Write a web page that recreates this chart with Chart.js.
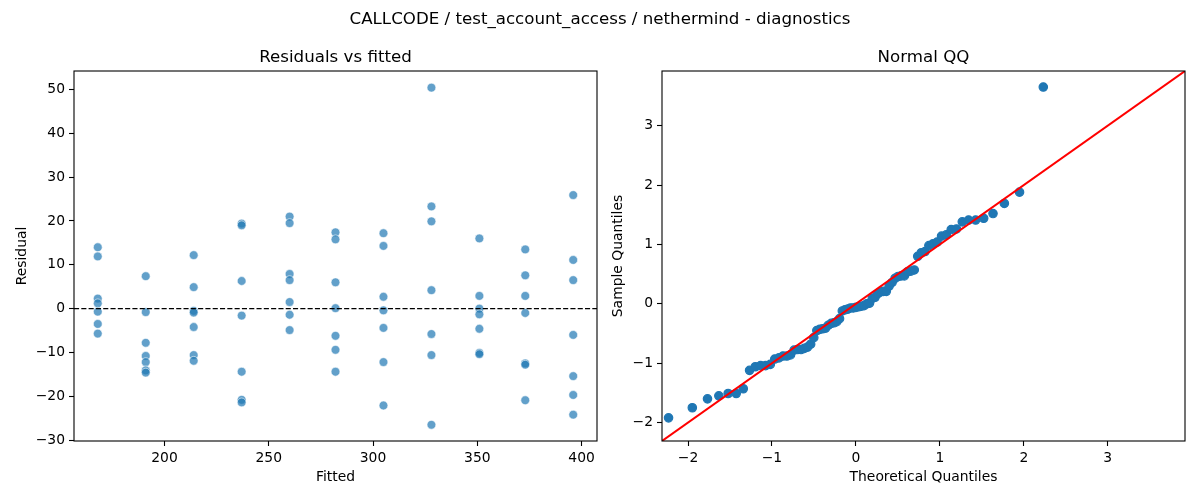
<!DOCTYPE html>
<html>
<head>
<meta charset="utf-8">
<script src="https://cdn.jsdelivr.net/npm/chart.js@4.4.1/dist/chart.umd.min.js"></script>
<style>
  body { margin: 0; background: #fff; }
  #wrap { position: relative; width: 1200px; height: 500px; font-family: 'DejaVu Sans', sans-serif; }
  #wrap canvas { position: absolute; left: 0; top: 0; }
  #suptitle { position: absolute; left: 0; top: 9px; width: 1200px; line-height: 20px; text-align: center; font-size: 16.67px; color: #000; }
</style>
</head>
<body>
<div id="wrap">
  <canvas id="residChart" width="1200" height="500"></canvas>
  <canvas id="qqChart" width="1200" height="500"></canvas>
  <div id="suptitle">CALLCODE / test_account_access / nethermind - diagnostics</div>
</div>
<script>
// fitted levels, one column of residuals for each
const fittedLevels = [168, 191, 214, 237, 260, 282, 305, 328, 351, 373, 396];
const residuals = [
    [14.0, 11.9, 2.3, 1.2, -0.7, -3.5, -5.7],
    [7.4, -0.8, -7.8, -10.8, -12.2, -14.1, -14.6],
    [12.2, 4.9, -0.5, -0.9, -4.2, -10.6, -11.9],
    [19.4, 19.0, 6.3, -1.6, -14.4, -20.8, -21.4],
    [21.0, 19.5, 7.9, 6.5, 1.5, -1.4, -4.9],
    [17.4, 15.8, 6.0, 0.1, -6.2, -9.4, -14.4],
    [17.2, 14.3, 2.7, -0.4, -4.4, -12.2, -22.1],
    [50.4, 23.3, 19.9, 4.2, -5.8, -10.6, -26.5],
    [16.0, 2.9, 0.0, -1.3, -4.6, -10.1, -10.4],
    [13.5, 7.6, 2.9, -1.0, -12.5, -12.8, -20.9],
    [25.9, 11.1, 6.5, -6.0, -15.4, -19.7, -24.2]
];
const fittedTicks = [200, 250, 300, 350, 400];
const residTicks = [-30, -20, -10, 0, 10, 20, 30, 40, 50];

// normal QQ points (theoretical vs sample quantiles)
const theoQ = [
    -2.232, -1.949, -1.768, -1.633, -1.522, -1.426, -1.342, -1.267, -1.198, -1.135,
    -1.076, -1.020, -0.967, -0.917, -0.869, -0.823, -0.779, -0.736, -0.695, -0.654,
    -0.615, -0.577, -0.539, -0.502, -0.466, -0.431, -0.396, -0.362, -0.328, -0.294,
    -0.261, -0.228, -0.195, -0.162, -0.129, -0.097, -0.064, -0.032, 0.000, 0.032,
    0.064, 0.097, 0.129, 0.162, 0.195, 0.228, 0.261, 0.294, 0.328, 0.362,
    0.396, 0.431, 0.466, 0.502, 0.539, 0.577, 0.615, 0.654, 0.695, 0.736,
    0.779, 0.823, 0.869, 0.917, 0.967, 1.020, 1.076, 1.135, 1.198, 1.267,
    1.342, 1.426, 1.522, 1.633, 1.768, 1.949, 2.232
];
const sampleQ = [
    -1.92, -1.75, -1.60, -1.55, -1.51, -1.51, -1.43, -1.12, -1.06, -1.04,
    -1.04, -1.02, -0.93, -0.91, -0.88, -0.88, -0.86, -0.78, -0.77, -0.77,
    -0.75, -0.73, -0.68, -0.57, -0.45, -0.43, -0.42, -0.41, -0.36, -0.33,
    -0.32, -0.30, -0.25, -0.12, -0.10, -0.09, -0.07, -0.07, -0.06, -0.05,
    -0.04, -0.03, 0.00, 0.01, 0.09, 0.11, 0.17, 0.20, 0.21, 0.21,
    0.30, 0.36, 0.43, 0.46, 0.47, 0.47, 0.54, 0.55, 0.57, 0.80,
    0.86, 0.88, 0.98, 1.01, 1.04, 1.14, 1.16, 1.25, 1.26, 1.38,
    1.41, 1.41, 1.44, 1.52, 1.69, 1.88, 3.65
];
const qqTicks = [-2, -1, 0, 1, 2, 3];
const qqLim = [-2.31, 3.92];

const FONT = "'DejaVu Sans', sans-serif";

// draws the box round the axes and the optional dashed zero line
const framePlugin = {
    id: 'frame',
    afterDatasetsDraw(chart, args, opts) {
        const ctx = chart.ctx;
        const a = chart.chartArea;
        ctx.save();
        if (opts.zeroLine) {
            const y = chart.scales.y.getPixelForValue(0);
            ctx.setLineDash([5.1, 2.2]);
            ctx.lineWidth = 1.4;
            ctx.strokeStyle = '#000';
            ctx.beginPath();
            ctx.moveTo(a.left, y);
            ctx.lineTo(a.right, y);
            ctx.stroke();
        }
        ctx.setLineDash([]);
        ctx.lineWidth = 1.1;
        ctx.strokeStyle = '#000';
        ctx.strokeRect(a.left, a.top, a.right - a.left, a.bottom - a.top);
        ctx.restore();
    }
};

function minusSign(v) {
    return String(v).replace('-', '\u2212');
}

function makeAxis(min, max, ticks, title, size, titlePad) {
    const vertical = title.vertical;
    return {
        type: 'linear',
        position: vertical ? 'left' : 'bottom',
        min: min,
        max: max,
        afterBuildTicks: function (scale) {
            scale.ticks = ticks.map(v => ({ value: v }));
        },
        afterFit: function (scale) {
            if (vertical) scale.width = size; else scale.height = size;
        },
        border: { display: false },
        grid: { display: true, drawOnChartArea: false, drawTicks: true, tickLength: 5, tickColor: '#000', tickWidth: 1.1 },
        ticks: {
            padding: 4,
            color: '#000',
            font: { family: FONT, size: 13.89 },
            callback: function (v) { return minusSign(v); }
        },
        title: {
            display: true,
            text: title.text,
            color: '#000',
            font: { family: FONT, size: 13.89, lineHeight: 1.2 },
            padding: titlePad
        }
    };
}

function plotTitle(text) {
    return {
        display: true,
        text: text,
        fullSize: false,
        color: '#000',
        font: { family: FONT, size: 16.67, weight: 'normal', lineHeight: 1.2 },
        padding: { top: 48, bottom: 3 }
    };
}

// residuals vs fitted
let residPoints = [];
for (var i = 0; i < fittedLevels.length; i++) {
    for (var j = 0; j < residuals[i].length; j++) {
        residPoints.push({ x: fittedLevels[i], y: residuals[i][j] });
    }
}

new Chart(document.getElementById('residChart'), {
    type: 'scatter',
    data: {
        datasets: [{
            data: residPoints,
            pointRadius: 4.4,
            pointBackgroundColor: 'rgba(31,119,180,0.7)',
            pointBorderColor: 'rgba(255,255,255,0.7)',
            pointBorderWidth: 0.8
        }]
    },
    options: {
        responsive: false,
        animation: false,
        events: [],
        layout: { padding: { left: 0, right: 603, top: 0, bottom: 9 } },
        scales: {
            x: makeAxis(156.6, 407.4, fittedTicks, { text: 'Fitted' }, 50, { top: 0, bottom: 5.7 }),
            y: makeAxis(-30.2, 54.2, residTicks, { text: 'Residual', vertical: true }, 74, { top: 13.7, bottom: 0 })
        },
        plugins: {
            legend: { display: false },
            tooltip: { enabled: false },
            title: plotTitle('Residuals vs fitted'),
            frame: { zeroLine: true }
        }
    },
    plugins: [framePlugin]
});

// normal QQ
let qqPoints = theoQ.map((t, k) => ({ x: t, y: sampleQ[k] }));

new Chart(document.getElementById('qqChart'), {
    type: 'scatter',
    data: {
        datasets: [{
            data: [{ x: qqLim[0], y: qqLim[0] }, { x: qqLim[1], y: qqLim[1] }],
            showLine: true,
            borderColor: '#ff0000',
            borderWidth: 2,
            pointRadius: 0,
            order: 0
        }, {
            data: qqPoints,
            pointRadius: 4.2,
            pointBackgroundColor: '#1f77b4',
            pointBorderColor: '#1f77b4',
            pointBorderWidth: 1.2,
            order: 1
        }]
    },
    options: {
        responsive: false,
        animation: false,
        events: [],
        layout: { padding: { left: 602, right: 15, top: 0, bottom: 9 } },
        scales: {
            x: makeAxis(qqLim[0], qqLim[1], qqTicks, { text: 'Theoretical Quantiles' }, 50, { top: 0, bottom: 5.7 }),
            y: makeAxis(qqLim[0], qqLim[1], qqTicks, { text: 'Sample Quantiles', vertical: true }, 60, { top: 7.7, bottom: 0 })
        },
        plugins: {
            legend: { display: false },
            tooltip: { enabled: false },
            title: plotTitle('Normal QQ'),
            frame: { zeroLine: false }
        }
    },
    plugins: [framePlugin]
});
</script>
</body>
</html>
